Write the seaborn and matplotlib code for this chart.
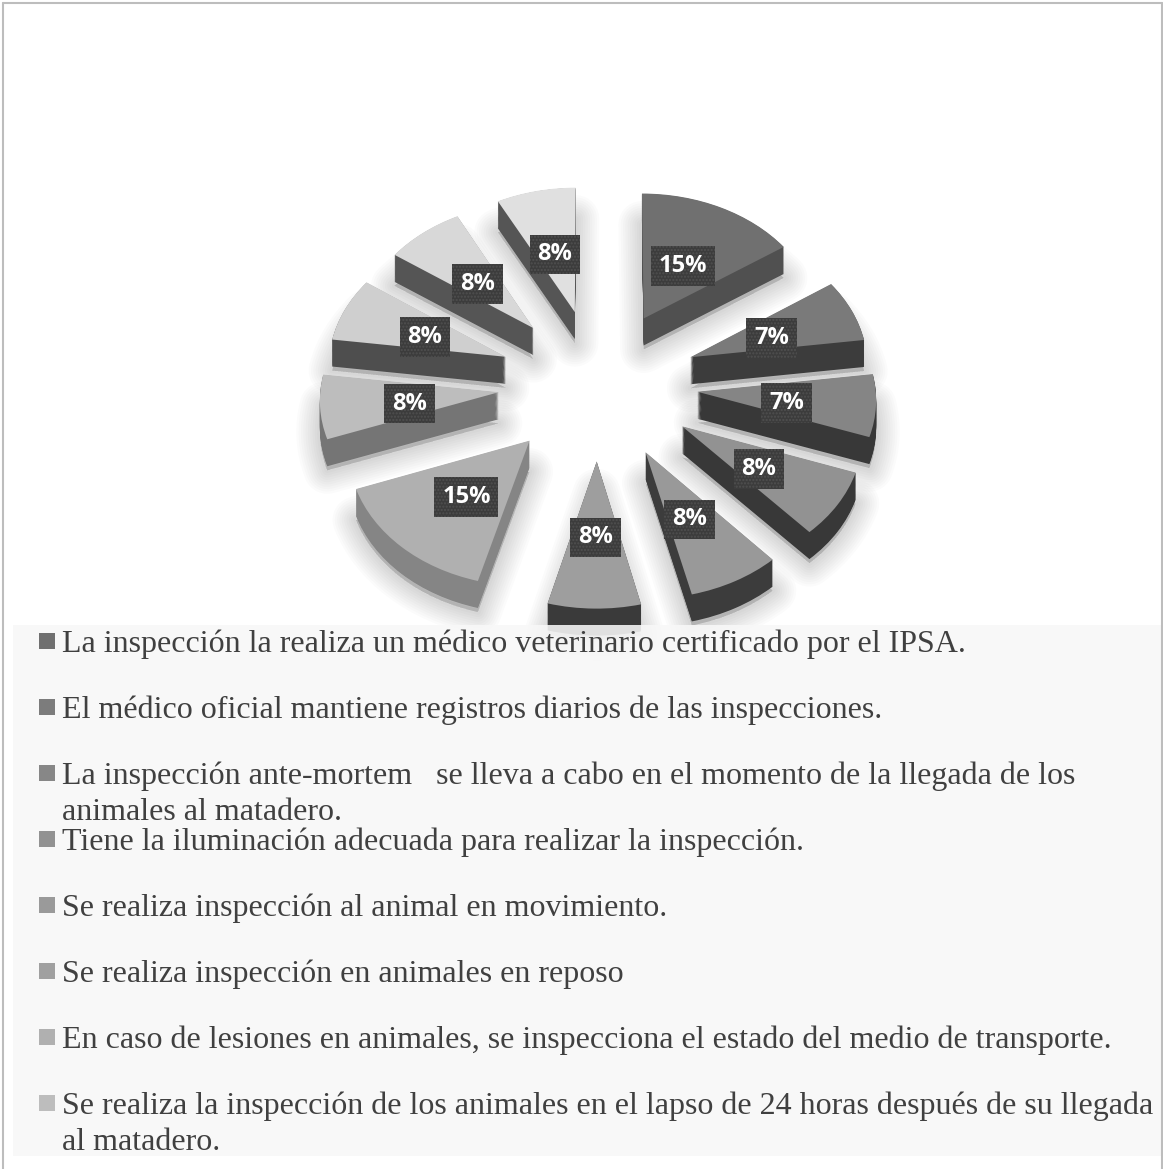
import matplotlib
matplotlib.use("Agg")
import matplotlib.pyplot as plt
from matplotlib.lines import Line2D
from matplotlib.patches import Rectangle
from matplotlib.transforms import Affine2D, Transform
import numpy as np
import seaborn as sns

# slices, clockwise from the top (the labels round these to whole percents)
values = [15.4, 7.4, 7.4, 7.9, 7.9, 7.9, 15.2, 7.6, 7.6, 7.6, 7.6]
top_colors = ['#707070', '#7a7a7a', '#858585', '#929292', '#999999', '#9e9e9e',
              '#b0b0b0', '#bdbdbd', '#cfcfcf', '#d8d8d8', '#e0e0e0']
side_colors = ['#505050', '#3c3c3c', '#383838', '#383838', '#3c3c3c', '#3a3a3a',
               '#858585', '#757575', '#4e4e4e', '#555555', '#555555']

legend_labels = [
    'La inspección la realiza un médico veterinario certificado por el IPSA.',
    'El médico oficial mantiene registros diarios de las inspecciones.',
    'La inspección ante-mortem   se lleva a cabo en el momento de la llegada de los\nanimales al matadero.',
    'Tiene la iluminación adecuada para realizar la inspección.',
    'Se realiza inspección al animal en movimiento.',
    'Se realiza inspección en animales en reposo',
    'En caso de lesiones en animales, se inspecciona el estado del medio de transporte.',
    'Se realiza la inspección de los animales en el lapso de 24 horas después de su llegada\nal matadero.',
]
legend_colors = ['#707070', '#7c7c7c', '#878787', '#929292', '#9a9a9a', '#a0a0a0', '#b0b0b0', '#bdbdbd']

W, H = 1163, 1169
CX, CY = 598, 384      # pie centre in pixels
RX, RY = 178, 135      # pixels per radius
EXPLODE = 0.56
DEPTH_PX = 27


class Perspective(Transform):
    # tilts the pie plane: the far side shrinks, the near side grows
    input_dims = output_dims = 2

    def __init__(self, k):
        super().__init__()
        self.k = k

    def transform_non_affine(self, values):
        values = np.asarray(values, dtype=float)
        return values / (1 + self.k * values[:, 1:2])


sns.set_theme(style='white')
plt.rcParams['font.family'] = ['Liberation Serif', 'DejaVu Sans']

fig = plt.figure(figsize=(W / 100, H / 100), dpi=100, facecolor='white')
ax = fig.add_axes([0, 0, 1, 1])
tilt = Perspective(0.04) + ax.transData


def draw_pie(drop, colors, wedgeprops, **kw):
    # drop = how many pixels this layer sits below the top face
    result = ax.pie(values, colors=colors, wedgeprops=wedgeprops,
                    explode=[EXPLODE] * len(values), startangle=90, counterclock=False,
                    labeldistance=None, normalize=True, **kw)
    for w in result[0]:
        w.set_transform(tilt + Affine2D().translate(0, -drop))
    return result


# soft shadow, clipped to the chart image box like the original
shadow_clip = Rectangle((345 / W, 1 - 612 / H), 510 / W, 380 / H, transform=fig.transFigure)
for lw in np.linspace(34, 4, 10):
    wedges, _ = draw_pie(DEPTH_PX + 4, ['#000000'] * len(values),
                         dict(linewidth=lw, edgecolor='#000000', alpha=0.017, joinstyle='round'))
    for w in wedges:
        w.set_clip_path(shadow_clip)

# side walls, stacked downward
for d in np.linspace(DEPTH_PX, 0.5, 30):
    draw_pie(d, side_colors, dict(linewidth=0))

# top faces with the percent labels
_, _, pct_texts = draw_pie(0, top_colors, dict(linewidth=0),
                           autopct=lambda p: f'{p:.0f}%', pctdistance=0.5)
for t in pct_texts:
    t.set_transform(tilt + Affine2D().translate(0, -4))
    t.set(family='Open Sans', fontweight='bold', fontsize=17, color='white', zorder=5)
    t.set_bbox(dict(boxstyle='square,pad=0.33', facecolor='#3c3c3c', edgecolor='#505050',
                    linewidth=0, hatch='.....'))

ax.set_aspect('auto')
ax.set_xlim(-CX / RX, (W - CX) / RX)
ax.set_ylim((CY - H) / RY, CY / RY)
ax.axis('off')

# legend panel, sits over the foot of the pie
fig.add_artist(Rectangle((13 / W, 1 - 1156 / H), (W - 13) / W, (1156 - 625) / H,
                         transform=fig.transFigure, facecolor='#f8f8f8', edgecolor='none', alpha=0.88))

baseline = 652
for label, color in zip(legend_labels, legend_colors):
    fig.add_artist(Rectangle((39 / W, 1 - (baseline - 3) / H), 16 / W, 16 / H,
                             transform=fig.transFigure, facecolor=color, edgecolor='none'))
    for j, line in enumerate(label.split('\n')):
        fig.text(62.5 / W, 1 - (baseline + j * 36.5) / H, line, fontsize=23, color='#404040', va='baseline')
    baseline += 66

# outer border, open at the bottom
border = '#bdbdbd'
fig.add_artist(Line2D([2.5 / W, 2.5 / W], [0, 1 - 3 / H], color=border, lw=1.5))
fig.add_artist(Line2D([2.5 / W, 1161.5 / W], [1 - 3 / H, 1 - 3 / H], color=border, lw=1.5))
fig.add_artist(Line2D([1161.5 / W, 1161.5 / W], [0, 1 - 3 / H], color=border, lw=1.5))

fig.savefig('out.png', dpi=100)
